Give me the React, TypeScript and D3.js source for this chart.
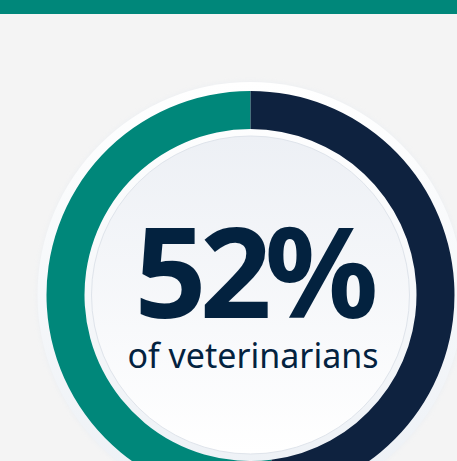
import React from "react";
import * as d3 from "d3";

const segments = ["Veterinarians", "Others"];
const shares = [52, 48];
const segmentColors = ["#00877a", "#0e223f"];
const headline = "52%";
const subline = "of veterinarians";

const W = 457;
const H = 461;

export default function App() {
  const cx = 250.5;
  const cy = 295;
  const rOut = 204;
  const rIn = 166;
  const rPlate = 213;
  const rDisk = 159;

  const pie = d3
    .pie<number>()
    .sort(null)
    .value((d) => d)
    .startAngle(0)
    .endAngle(-2 * Math.PI);
  const arcs = pie(shares);
  const arc = d3.arc<d3.PieArcDatum<number>>().innerRadius(rIn).outerRadius(rOut);

  return (
    <svg
      width={W}
      height={H}
      style={{ position: "absolute", left: 0, top: 0, display: "block" }}
    >
      <defs>
        <linearGradient id="plateGrad" x1="0" y1="0" x2="0" y2="1">
          <stop offset="0%" stopColor="#ffffff" />
          <stop offset="100%" stopColor="#ecf0f5" />
        </linearGradient>
        <linearGradient id="diskGrad" x1="0" y1="0" x2="0" y2="1">
          <stop offset="0%" stopColor="#edf0f5" />
          <stop offset="100%" stopColor="#ffffff" />
        </linearGradient>
        <filter id="soft" x="-20%" y="-20%" width="140%" height="140%">
          <feGaussianBlur stdDeviation="2" />
        </filter>
      </defs>
      <rect x={0} y={0} width={W} height={H} fill="#f4f4f4" />
      <rect x={0} y={0} width={W} height={14} fill="#00877a" />
      <circle cx={cx} cy={cy} r={rPlate + 1} fill="#e9edf2" filter="url(#soft)" opacity={0.6} />
      <circle cx={cx} cy={cy} r={rPlate} fill="url(#plateGrad)" />
      <g transform={`translate(${cx},${cy})`}>
        {arcs.map((a, i) => (
          <path key={segments[i]} d={arc(a) || ""} fill={segmentColors[i]} />
        ))}
      </g>
      <circle cx={cx} cy={cy} r={rDisk} fill="url(#diskGrad)" stroke="#dfe4eb" strokeWidth={1} />
      <text
        x={253}
        y={318}
        textAnchor="middle"
        fontFamily="'Noto Sans', sans-serif"
        fontWeight={700}
        fontSize={126}
        letterSpacing={-7}
        fill="#03223f"
      >
        {headline}
      </text>
      <text
        x={253}
        y={368}
        textAnchor="middle"
        fontFamily="'Noto Sans', sans-serif"
        fontWeight={400}
        fontSize={34}
        fill="#03223f"
      >
        {subline}
      </text>
    </svg>
  );
}
